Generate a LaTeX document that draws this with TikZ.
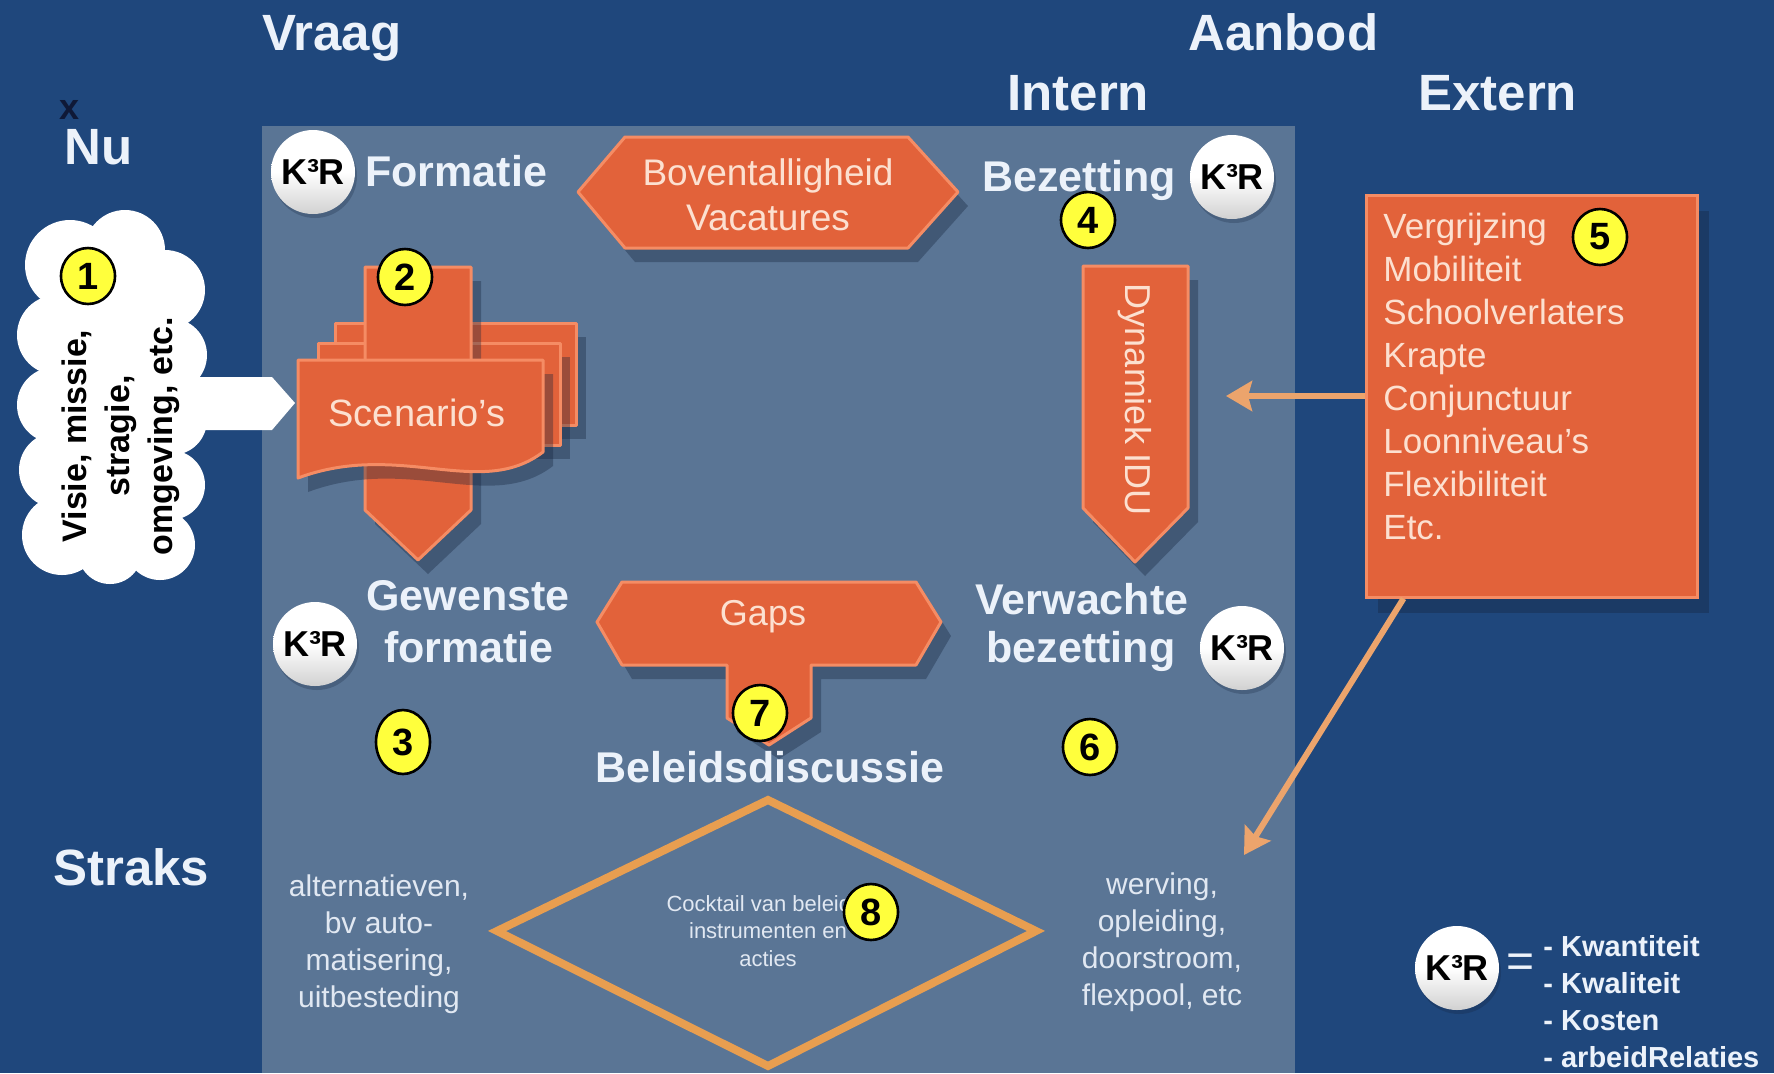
\documentclass[tikz,border=0pt]{standalone}
\usepackage{fontspec}
\setmainfont{Liberation Sans}
\usetikzlibrary{shapes.geometric,arrows.meta,shadows,calc}
\definecolor{bgblue}{RGB}{31,71,124}
\definecolor{panelc}{RGB}{90,117,149}
\definecolor{orng}{RGB}{226,98,58}
\definecolor{orngedge}{RGB}{245,140,100}
\definecolor{peach}{RGB}{252,224,208}
\definecolor{arrowc}{RGB}{236,164,108}
\definecolor{diamc}{RGB}{232,158,80}
\definecolor{titlec}{RGB}{236,242,250}
\definecolor{numyel}{RGB}{255,255,60}
\definecolor{softtext}{RGB}{225,232,242}
\definecolor{navyx}{RGB}{15,25,55}
\definecolor{shadowc}{RGB}{20,35,60}
\begin{document}
\begin{tikzpicture}[x=0.5pt,y=-0.5pt,
  title/.style={font=\fontsize{25.5}{30}\selectfont\bfseries, text=titlec, inner sep=0pt},
  lbl/.style={font=\fontsize{21.5}{25}\selectfont\bfseries, text=titlec, inner sep=0pt},
  shapetext/.style={font=\fontsize{18}{22.5}\selectfont, text=peach, align=center, inner sep=0pt},
  orngshape/.style={fill=orng, draw=orngedge, line width=1.5pt, line join=round,
     drop shadow={shadow xshift=5pt, shadow yshift=-7pt, opacity=0.35, fill=shadowc}},
  num/.style={ellipse, fill=numyel, draw=black, line width=1.3pt, minimum width=27pt,
     minimum height=28pt, inner sep=0pt, font=\fontsize{19}{20}\selectfont\bfseries, text=black},
  kr/.style={circle, top color=white, bottom color=white!82!black, middle color=white,
     minimum size=42pt, inner sep=0pt, font=\fontsize{18}{20}\selectfont\bfseries, text=black,
     drop shadow={shadow xshift=1pt, shadow yshift=-2pt, opacity=0.25, fill=shadowc}},
  conn/.style={draw=arrowc, line width=3pt, -{Stealth[length=13pt,width=15pt,inset=2pt]}},
  softtxt/.style={font=\fontsize{15}{18.5}\selectfont, text=softtext, align=center, inner sep=0pt},
]
\path[use as bounding box] (0,0) rectangle (1774,1073);
\fill[bgblue] (0,0) rectangle (1774,1073);
\fill[panelc] (262,126) rectangle (1295,1073);

% titles
\node[title, anchor=mid west] (vraag) at (262,45) {Vraag};
\node[title, anchor=mid west] (aanbod) at (1188,45) {Aanbod};
\node[title, anchor=mid west] (intern) at (1007,105) {Intern};
\node[title, anchor=mid west] (extern) at (1418,105) {Extern};
\node[title, anchor=mid west] (nu) at (64,159) {Nu};
\node[font=\fontsize{18}{20}\selectfont\bfseries, text=navyx, inner sep=0pt] (xmark) at (70,110) {x};
\node[title, anchor=mid west] (straks) at (53,880) {Straks};

% cloud
\foreach \cx/\cy/\r in {70/265/45, 125/250/40, 165/290/40, 57/335/40, 55/405/38, 57/470/38,
   62/535/40, 170/355/37, 172/420/35, 170/485/35, 160/545/35, 110/552/32}
  \fill[white] (\cx,\cy) circle[radius=\r];
\fill[white] (55,262) rectangle (175,560);
\fill[white] (165,377) -- (272,377) -- (295,403) -- (272,430) -- (165,430) -- cycle;
\node[rotate=90, font=\fontsize{17}{21.5}\selectfont\bfseries, align=center, text=black, inner sep=0pt]
  (cloudtxt) at (121,436) {Visie, missie,\\stragie,\\omgeving, etc.};

% scenario's
\path[orngshape] (335,323) rectangle (576,425);
\path[orngshape] (318,343) rectangle (560,445);
\path[orngshape] (365,267) -- (471,267) -- (471,510) -- (418,560) -- (365,510) -- cycle;
\path[orngshape] (298,360) -- (543,360) -- (543,452) .. controls (480,500) and (400,440) .. (298,478) -- cycle;
\node[shapetext, font=\fontsize{19}{22}\selectfont] (scen) at (417,413) {Scenario's};

% boventalligheid
\path[orngshape] (578,192) -- (625,137) -- (908,137) -- (958,192) -- (908,248) -- (625,248) -- cycle;
\node[shapetext, font=\fontsize{18.5}{22.5}\selectfont] (bov) at (768,195) {Boventalligheid\\Vacatures};

% dynamiek
\path[orngshape] (1083,266) -- (1188,266) -- (1188,508) -- (1135,562) -- (1083,508) -- cycle;
\node[shapetext, rotate=-90] (dyn) at (1135,400) {Dynamiek IDU};

% gaps
\path[orngshape] (597,622) -- (622,582) -- (916,582) -- (941,622) -- (916,665) -- (811,665)
  -- (811,718) -- (769,745) -- (727,718) -- (727,665) -- (622,665) -- cycle;
\node[shapetext] (gaps) at (763,617) {Gaps};

% box 5
\node[fill=orng, draw=orngedge, line width=1.5pt, minimum width=165.5pt, minimum height=201pt,
  drop shadow={shadow xshift=6pt, shadow yshift=-8pt, opacity=0.35, fill=shadowc}] (box5) at (1531.5,396) {};
\node[anchor=north west, align=left, inner sep=0pt, text=peach, font=\fontsize{17.5}{21.5}\selectfont]
  (box5txt) at (1383,213) {Vergrijzing\\Mobiliteit\\Schoolverlaters\\Krapte\\Conjunctuur\\Loonniveau's\\Flexibiliteit\\Etc.};

\coordinate (dynIn) at (1226,396);
\coordinate (wervIn) at (1244,855);
\draw[conn] (box5.west) -- (dynIn);
\draw[conn] ($(box5.south west)+(39,0)$) -- (wervIn);

% diamond
\draw[diamc, line width=4pt] (768,800) -- (1036,931) -- (768,1066) -- (497,931) -- cycle;
\node[align=center, inner sep=0pt, text=softtext, font=\fontsize{11}{13.8}\selectfont]
  (cocktail) at (768,931) {Cocktail van beleids-\\instrumenten en\\acties};

% labels
\node[lbl, anchor=mid west] (formatie) at (365,181) {Formatie};
\node[lbl, anchor=mid west] (bezetting) at (982,186) {Bezetting};
\node[lbl] (gew1) at (468,596) {Gewenste};
\node[lbl] (gew2) at (469,647) {formatie};
\node[lbl] (ver1) at (1082,599) {Verwachte};
\node[lbl] (ver2) at (1081,651) {bezetting};
\node[lbl] (beleid) at (770,767) {Beleidsdiscussie};

\node[softtxt] (alt) at (379,944) {alternatieven,\\bv auto-\\matisering,\\uitbesteding};
\node[softtxt] (werv) at (1162,942) {werving,\\opleiding,\\doorstroom,\\flexpool, etc};

% K3R circles
\node[kr] (kr1) at (313,172) {K³R};
\node[kr] (kr2) at (1232,177) {K³R};
\node[kr] (kr3) at (315,644) {K³R};
\node[kr] (kr4) at (1242,648) {K³R};
\node[kr] (kr5) at (1457,968) {K³R};
\node[font=\fontsize{24}{26}\selectfont, text=titlec, inner sep=0pt] (eq) at (1521,966) {=};
\node[anchor=west, align=left, inner sep=0pt, text=titlec, font=\fontsize{14.5}{18.5}\selectfont\bfseries]
  (legend) at (1543,1002) {- Kwantiteit\\- Kwaliteit\\- Kosten\\- arbeidRelaties};

% numbers
\node[num] (n1) at (88,276) {1};
\node[num] (n2) at (405,277) {2};
\node[num, minimum height=32pt] (n3) at (403,742) {3};
\node[num] (n4) at (1088,220) {4};
\node[num] (n5) at (1600,237) {5};
\node[num] (n6) at (1090,747) {6};
\node[num] (n7) at (760,713) {7};
\node[num] (n8) at (871,912) {8};
\end{tikzpicture}
\end{document}
